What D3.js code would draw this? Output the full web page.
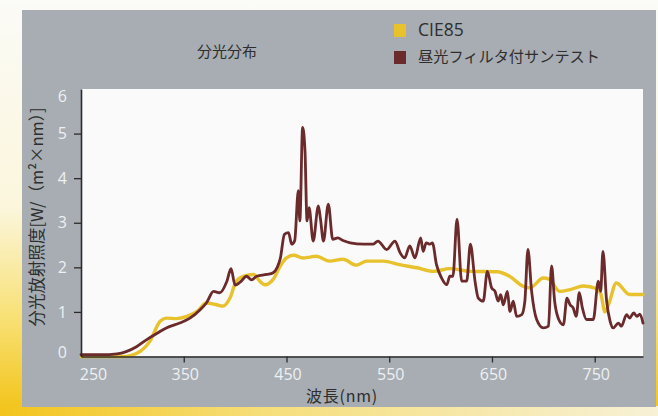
<!DOCTYPE html>
<html>
<head>
<meta charset="utf-8">
<script src="https://cdn.jsdelivr.net/npm/d3@7/dist/d3.min.js"></script>
<style>
  html, body { margin: 0; padding: 0; background: #ffffff; }
  svg { display: block; }
</style>
</head>
<body>
<svg id="chart" width="658" height="416"></svg>
<script>
// Spectral distribution: CIE85 reference vs. Suntest with daylight filter
const chartTitle = "分光分布";
const seriesNames = ["CIE85", "昼光フィルタ付サンテスト"];
const seriesColors = ["#e7c22c", "#6b2a2b"];

const wavelengthTicks = [250, 350, 450, 550, 650, 750];
const irradianceTicks = [0, 1, 2, 3, 4, 5, 6];

// CIE85 (nm, W/(m²·nm))
const cieWavelength = [250, 290, 298, 308, 317, 327, 333, 343, 353, 363, 372, 382, 388, 395, 401, 408, 418, 424, 429, 437, 444, 450, 457, 466, 473, 479, 492, 505, 518, 528, 544, 560, 577, 593, 609, 629, 655, 667, 680, 687, 700, 706, 716, 726, 739, 752, 756, 760, 764, 771, 784, 797];
const cieValue = [0, 0, 0.02, 0.12, 0.34, 0.79, 0.86, 0.85, 0.9, 1.01, 1.2, 1.16, 1.13, 1.31, 1.69, 1.8, 1.84, 1.69, 1.61, 1.73, 2.03, 2.21, 2.27, 2.21, 2.23, 2.25, 2.14, 2.18, 2.05, 2.14, 2.14, 2.06, 1.99, 1.91, 1.97, 1.91, 1.9, 1.8, 1.58, 1.54, 1.76, 1.73, 1.46, 1.5, 1.58, 1.52, 1.4, 1.0, 1.2, 1.65, 1.39, 1.39];

// Suntest with daylight filter (nm, W/(m²·nm))
const suntestWavelength = [250, 270, 285, 294, 304, 314, 324, 333, 346, 356, 366, 372, 379, 385, 392, 396, 400, 406, 411, 416, 421, 431, 437, 441, 444, 448, 452, 455, 458, 461.5, 463, 465.7, 468, 470, 472, 476, 481, 483, 486, 490.7, 495, 500, 505, 512, 525, 534.5, 539, 547.5, 555.6, 560.5, 565, 570, 575, 580.6, 583, 586, 589.6, 592, 596, 601, 606, 609, 612, 616, 620.5, 625.4, 629, 633.5, 636.7, 641.5, 645.5, 649.7, 653, 656, 658.5, 661, 665, 667.5, 670.7, 674, 679, 682, 685, 688.6, 693.5, 700, 705, 708, 711, 714.5, 719.5, 723, 726, 729, 732, 735, 738, 742, 748.6, 753.5, 755.8, 758, 761.6, 765, 768, 773, 776, 781, 784, 788, 791, 794, 797];
const suntestValue = [0.04, 0.04, 0.06, 0.11, 0.22, 0.38, 0.52, 0.64, 0.75, 0.86, 1.05, 1.2, 1.46, 1.43, 1.69, 1.97, 1.6, 1.69, 1.8, 1.72, 1.8, 1.84, 1.88, 2.0, 2.2, 2.74, 2.78, 2.52, 2.6, 3.72, 3.04, 5.14, 4.62, 3.04, 3.34, 2.59, 3.38, 3.1, 2.59, 3.42, 2.63, 2.66, 2.6, 2.55, 2.52, 2.52, 2.59, 2.4, 2.59, 2.33, 2.21, 2.48, 2.21, 2.66, 2.36, 2.55, 2.52, 2.55, 2.06, 1.76, 1.61, 1.8, 1.8, 3.08, 1.69, 1.69, 2.52, 1.69, 1.31, 1.24, 1.91, 1.54, 1.46, 1.24, 1.39, 1.16, 1.46, 1.01, 1.24, 0.9, 0.94, 1.24, 2.4, 1.46, 0.83, 0.64, 0.68, 2.03, 1.24, 0.86, 0.71, 1.31, 1.16, 1.09, 0.9, 1.43, 1.09, 0.83, 0.83, 1.69, 1.46, 2.36, 1.24, 0.79, 0.64, 0.75, 0.68, 0.94, 0.86, 0.98, 0.9, 0.95, 0.75];

const svg = d3.select("#chart");
const W = 658, H = 416;

// backdrop: pale-to-yellow page edge, grey panel
const defs = svg.append("defs");
const edge = defs.append("linearGradient").attr("id", "edge").attr("x1", 0).attr("y1", 0).attr("x2", 0).attr("y2", 1);
edge.append("stop").attr("offset", "0%").attr("stop-color", "#fbfbf7");
edge.append("stop").attr("offset", "50%").attr("stop-color", "#fbf6dc");
edge.append("stop").attr("offset", "75%").attr("stop-color", "#f8e27a");
edge.append("stop").attr("offset", "100%").attr("stop-color", "#f2c215");
const foot = defs.append("linearGradient").attr("id", "foot").attr("x1", 0).attr("y1", 0).attr("x2", 1).attr("y2", 0);
foot.append("stop").attr("offset", "0%").attr("stop-color", "#f3c41c");
foot.append("stop").attr("offset", "40%").attr("stop-color", "#f6de7a");
foot.append("stop").attr("offset", "100%").attr("stop-color", "#f7f1d6");

svg.append("rect").attr("width", W).attr("height", H).attr("fill", "url(#edge)");
svg.append("rect").attr("x", 0).attr("y", 406).attr("width", W).attr("height", 10).attr("fill", "url(#foot)");
svg.append("rect").attr("x", 22).attr("y", 10).attr("width", 634).attr("height", 397).attr("fill", "#a7adb2");

const plot = { left: 81, right: 643, top: 89, bottom: 356.5 };

const x = d3.scaleLinear().domain([250, 797]).range([plot.left, plot.right]);
const y = d3.scaleLinear().domain([0, 6]).range([plot.bottom, plot.top]);

svg.append("rect")
  .attr("x", plot.left).attr("y", plot.top)
  .attr("width", plot.right - plot.left).attr("height", plot.bottom - plot.top)
  .attr("fill", "#fafafa");

const labelColor = "#eef0f2";
const numFont = "'Open Sans', 'Noto Sans', sans-serif";
const cjkFont = "'Noto Sans CJK JP', 'Noto Sans', sans-serif";

// series lines
const line = d3.line().x(d => x(d[0])).y(d => y(d[1])).curve(d3.curveMonotoneX);
const cieData = d3.zip(cieWavelength, cieValue);
const suntestData = d3.zip(suntestWavelength, suntestValue);

svg.append("path").datum(cieData).attr("d", line)
  .attr("fill", "none").attr("stroke", seriesColors[0]).attr("stroke-width", 3.4)
  .attr("stroke-linejoin", "round").attr("stroke-linecap", "round");
svg.append("path").datum(suntestData).attr("d", line)
  .attr("fill", "none").attr("stroke", seriesColors[1]).attr("stroke-width", 2.8)
  .attr("stroke-linejoin", "round").attr("stroke-linecap", "round");

// x axis
const xAxis = svg.append("g").attr("transform", `translate(0,${plot.bottom})`)
  .call(d3.axisBottom(x).tickValues(wavelengthTicks).tickSize(6).tickSizeOuter(0).tickPadding(6).tickFormat(d3.format("d")));
xAxis.select(".domain").attr("stroke", "#2b2b2b").attr("stroke-width", 1.6);
xAxis.selectAll(".tick line").attr("stroke", "#2b2b2b").attr("stroke-width", 1.3)
  .attr("display", d => d === 250 ? "none" : null);
xAxis.selectAll(".tick text").attr("fill", labelColor).attr("font-family", numFont).attr("font-size", 16)
  .attr("dx", d => d === 250 ? 12 : 1);

// y axis
const yAxis = svg.append("g").attr("transform", `translate(${plot.left},0)`)
  .call(d3.axisLeft(y).tickValues(irradianceTicks).tickSize(7).tickSizeOuter(0).tickPadding(7).tickFormat(d3.format("d")));
yAxis.select(".domain").attr("stroke", "#2b2b2b").attr("stroke-width", 1.6);
yAxis.selectAll(".tick line").attr("stroke", "#2b2b2b").attr("stroke-width", 1.3)
  .attr("display", d => (d === 0 || d === 6) ? "none" : null);
yAxis.selectAll(".tick text").attr("fill", labelColor).attr("font-family", numFont).attr("font-size", 16)
  .attr("dy", d => d === 6 ? "0.75em" : d === 0 ? "0.05em" : "0.32em");

// axis titles
svg.append("text").attr("x", 342).attr("y", 402).attr("text-anchor", "middle")
  .attr("font-family", cjkFont).attr("font-size", 16).attr("letter-spacing", 0.8).attr("fill", "#2e2e2e")
  .text("波長(nm)");
svg.append("text").attr("transform", "translate(43,217) rotate(-90)").attr("text-anchor", "middle")
  .attr("font-family", cjkFont).attr("font-size", 16.5).attr("fill", "#2e2e2e")
  .text("分光放射照度[W/（m²×nm）]");

// title
svg.append("text").attr("x", 227).attr("y", 57).attr("text-anchor", "middle")
  .attr("font-family", cjkFont).attr("font-size", 15).attr("fill", "#2e2e2e")
  .text(chartTitle);

// legend
const legend = svg.append("g");
seriesNames.forEach((name, i) => {
  const cy = 30 + i * 27;
  legend.append("rect").attr("x", 394).attr("y", cy - 6).attr("width", 12).attr("height", 13)
    .attr("fill", seriesColors[i]);
  legend.append("text").attr("x", 418).attr("y", cy).attr("dy", "0.35em")
    .attr("font-family", i === 0 ? numFont : cjkFont).attr("font-size", i === 0 ? 17.5 : 15.2)
    .attr("fill", "#2e2e2e")
    .text(name);
});
</script>
</body>
</html>
